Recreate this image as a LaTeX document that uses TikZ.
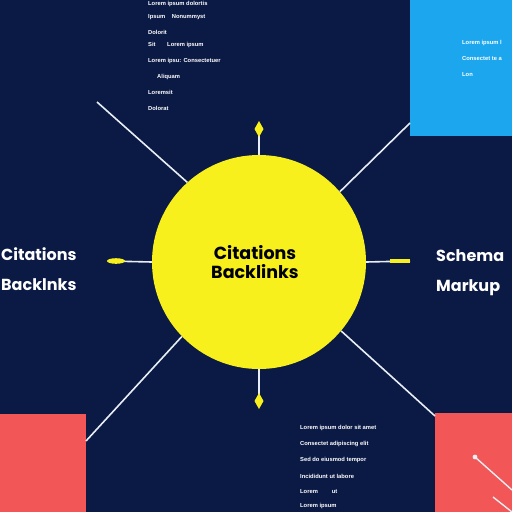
\documentclass[tikz,border=0pt]{standalone}
\usepackage{fontspec}
\setmainfont{Poppins}
\newfontfamily\smallfont{Liberation Sans}
\definecolor{navy}{HTML}{0B1A45}
\definecolor{hubyellow}{HTML}{F7F01C}
\definecolor{boxblue}{HTML}{1CA6EE}
\definecolor{boxred}{HTML}{F25656}
\definecolor{linewhite}{HTML}{E8EEF4}
\tikzset{
  spoke/.style={draw=linewhite, line width=1.6pt},
  bigtxt/.style={text=white, font=\fontsize{16}{30}\selectfont\bfseries, align=left, inner sep=0pt},
  hubtxt/.style={text=black, font=\fontsize{17.5}{18.5}\selectfont\bfseries, align=center, inner sep=0pt},
  tiny/.style={text=white, font=\smallfont\fontsize{5.8}{7}\selectfont\bfseries, anchor=west, inner sep=0pt},
  marker/.style={fill=hubyellow, draw=none}
}
\begin{document}
\begin{tikzpicture}[x=1pt,y=-1pt]
\useasboundingbox (0,0) rectangle (512,512);
\fill[navy] (0,0) rectangle (512,512);
% corner boxes
\fill[boxblue] (410,0) rectangle (512,136);
\fill[boxred] (0,414) rectangle (86,512);
\fill[boxred] (435,413) rectangle (512,512);
% hub
\node[circle, fill=hubyellow, minimum size=214pt, inner sep=0pt] (hub) at (259,262) {};
\node[hubtxt] (hubtext) at (255,262) {Citations\\Backlinks};
% spoke end coordinates
\coordinate (ul) at (97,102);
\coordinate (ur) at (410,123);
\coordinate (ll) at (86,441);
\coordinate (lr) at (435,416);
\coordinate (lt) at (108,261);
\coordinate (rt) at (410,261);
\coordinate (tp) at (259,126);
\coordinate (bt) at (259,404);
\draw[spoke] (hub.132.8) -- (ul);
\draw[spoke] (hub.41.6) -- (ur);
\draw[spoke] (hub.-136) -- (ll);
\draw[spoke] (hub.-40) -- (lr);
\draw[spoke] (hub.west) -- (lt);
\draw[spoke] (hub.east) -- (rt);
\draw[spoke] (hub.north) -- (tp);
\draw[spoke] (hub.south) -- (bt);
% yellow end markers
\fill[marker] (116,261) ellipse [x radius=9, y radius=2.8];
\draw[hubyellow, line width=3.2pt] (390,261) -- (rt);
\fill[marker] (259,121) -- (263.5,129) -- (259,137) -- (254.5,129) -- cycle;
\fill[marker] (259,393) -- (263.5,401) -- (259,409) -- (254.5,401) -- cycle;
% side labels
\node[bigtxt, anchor=north west] (lefttxt) at (1,247) {Citations\\Backlnks};
\node[bigtxt, anchor=north west] (righttxt) at (436,249) {Schema\\Markup};
% small white line inside bottom-right box
\draw[linewhite, line width=1.4pt] (475,457) -- (512,490);
\fill[linewhite] (475,457) circle (2.4pt);
\draw[linewhite, line width=1.4pt] (493,497) -- (512,512);
% top-left text block
\node[tiny] (t1) at (148,4) {Lorem ipsum dolortis};
\node[tiny] (t2) at (148,17) {Ipsum\hspace{5pt} Nonummyst};
\node[tiny] (t3) at (148,32) {Dolorit};
\node[tiny] (t4) at (148,45) {Sit\hspace{10pt} Lorem ipsum};
\node[tiny] (t5) at (148,61) {Lorem ipsu: Consectetuer};
\node[tiny] (t6) at (157,77) {Aliquam};
\node[tiny] (t7) at (148,92) {Loremsit};
\node[tiny] (t8) at (148,108) {Dolorat};
% blue box text
\node[tiny] (b1) at (462,43) {Lorem ipsum l};
\node[tiny] (b2) at (462,59) {Consectet te a};
\node[tiny] (b3) at (462,75) {Lon};
% bottom text block
\node[tiny] (c1) at (300,428) {Lorem ipsum dolor sit amet};
\node[tiny] (c2) at (300,444) {Consectet adipiscing elit};
\node[tiny] (c3) at (300,460) {Sed do eiusmod tempor};
\node[tiny] (c4) at (300,476) {Incididunt ut labore};
\node[tiny] (c5) at (300,492) {Lorem\hspace{14pt}ut};
\node[tiny] (c6) at (300,506) {Lorem ipsum};
\end{tikzpicture}
\end{document}
